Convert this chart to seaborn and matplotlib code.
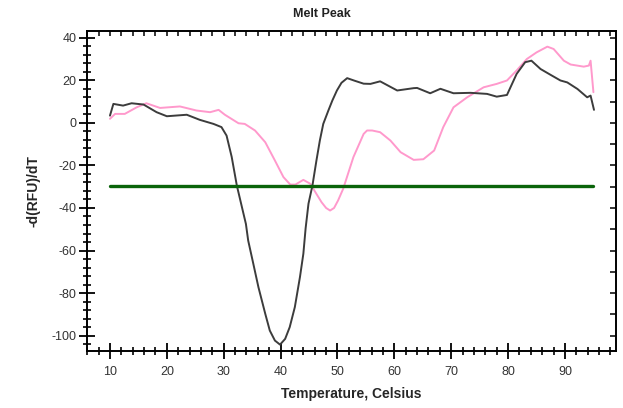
import matplotlib
matplotlib.use("Agg")
import matplotlib.pyplot as plt
from matplotlib.ticker import MultipleLocator
import seaborn as sns
import pandas as pd

# Melt curve derivative traces (temperature in Celsius, -d(RFU)/dT)
black_temp = [10.0, 10.6, 12.3, 13.8, 15.9, 18.2, 20.0, 23.5, 25.8, 28.2, 29.6, 30.5,
              31.4, 32.3, 33.2, 33.9, 34.3, 35.2, 36.1, 37.3, 38.1, 39.0, 39.9, 40.8,
              41.6, 42.5, 43.4, 44.0, 44.4, 44.9, 45.6, 46.3, 46.9, 47.5, 48.4, 49.1,
              49.9, 50.7, 51.7, 53.0, 54.6, 55.8, 57.5, 60.5, 63.4, 64.0, 66.3, 68.1,
              70.4, 73.4, 76.3, 78.0, 79.8, 81.5, 83.0, 84.1, 85.7, 87.5, 89.2, 90.4,
              92.2, 93.9, 94.5, 95.1]
black_vals = [3.4, 8.9, 8.1, 9.2, 8.6, 5.0, 3.1, 3.8, 1.4, -0.5, -2.0, -6.0,
              -16.0, -29.4, -39.6, -47.5, -55.3, -66.2, -77.2, -89.7, -97.6, -102.3, -104.2, -101.5,
              -96.0, -86.6, -72.5, -61.5, -49.5, -38.0, -29.4, -17.7, -8.3, -0.5, 5.8, 10.5,
              15.2, 18.8, 21.0, 19.8, 18.4, 18.3, 19.5, 15.2, 16.3, 16.4, 13.9, 16.0,
              13.9, 14.1, 13.6, 12.3, 13.1, 23.0, 28.5, 29.2, 25.3, 22.5, 19.9, 19.0,
              15.9, 12.0, 12.8, 6.1]

pink_temp = [10.0, 10.9, 12.6, 14.7, 16.4, 18.8, 22.3, 25.2, 27.6, 29.1, 30.2, 32.6,
             33.7, 35.5, 37.3, 39.0, 40.5, 41.7, 42.6, 44.0, 45.2, 47.2, 48.0, 48.7,
             49.4, 50.1, 51.0, 52.8, 54.6, 55.2, 56.1, 57.5, 59.3, 61.1, 63.4, 65.1,
             67.0, 68.6, 70.4, 72.8, 75.7, 78.0, 79.8, 81.5, 83.3, 85.0, 86.9, 88.0,
             89.8, 91.0, 93.3, 94.2, 94.5, 95.0]
pink_vals = [1.9, 4.2, 4.2, 7.3, 9.2, 7.0, 7.7, 5.8, 5.0, 6.1, 3.8, -0.2,
             -0.5, -3.6, -9.1, -17.7, -25.5, -29.0, -29.0, -26.8, -28.6, -37.3, -40.0, -41.2,
             -40.0, -36.5, -31.0, -16.1, -5.2, -3.6, -3.6, -4.4, -8.3, -13.8, -17.4, -17.1,
             -13.0, -2.0, 7.3, 12.0, 16.7, 18.3, 19.9, 24.6, 30.0, 33.1, 35.8, 34.7,
             29.2, 27.4, 26.4, 26.9, 29.2, 14.4]

threshold_temp = [10.0, 95.0]
threshold_vals = [-29.5, -29.5]

x_ticks = [10, 20, 30, 40, 50, 60, 70, 80, 90]
y_ticks = [40, 20, 0, -20, -40, -60, -80, -100]

sns.set_style("white")
plt.rcParams["font.family"] = ["Liberation Sans", "DejaVu Sans"]
plt.rcParams["axes.unicode_minus"] = False

fig = plt.figure(figsize=(6.23, 4.08), dpi=100)
ax = fig.add_axes([87 / 623, 1 - 351 / 408, (616 - 87) / 623, (351 - 31) / 408])

black_df = pd.DataFrame({"temp": black_temp, "val": black_vals})
pink_df = pd.DataFrame({"temp": pink_temp, "val": pink_vals})
thr_df = pd.DataFrame({"temp": threshold_temp, "val": threshold_vals})

sns.lineplot(data=pink_df, x="temp", y="val", ax=ax, color="#ff99cc",
             linewidth=1.4, sort=False, estimator=None)
sns.lineplot(data=black_df, x="temp", y="val", ax=ax, color="#3c3c3c",
             linewidth=1.4, sort=False, estimator=None)
sns.lineplot(data=thr_df, x="temp", y="val", ax=ax, color="#0a640a",
             linewidth=2.4, sort=False, estimator=None)

ax.set_xlim(5.96, 98.97)
ax.set_ylim(-107.2, 43.15)

ax.set_xticks(x_ticks)
ax.set_yticks(y_ticks)
ax.xaxis.set_minor_locator(MultipleLocator(2))
ax.yaxis.set_minor_locator(MultipleLocator(4))
ax.tick_params(axis="both", which="both", bottom=True, left=True, top=False, right=False)
ax.tick_params(axis="both", which="major", direction="inout", length=11, width=1.3,
               color="black", labelsize=9, labelcolor="#333333")
ax.tick_params(axis="both", which="minor", direction="inout", length=6, width=1.2,
               color="black")
ax.tick_params(axis="x", which="major", pad=5)
ax.tick_params(axis="y", which="major", pad=2)

for side in ["left", "bottom", "top", "right"]:
    ax.spines[side].set_visible(True)
    ax.spines[side].set_color("black")
    ax.spines[side].set_linewidth(1.4)

# inward ticks on top and right frame edges
top = ax.secondary_xaxis("top")
top.set_xticks([])
top.xaxis.set_minor_locator(MultipleLocator(2))
top.tick_params(which="minor", top=True, direction="in", length=3.5, width=1.1, color="black")
top.spines["top"].set_visible(False)
right = ax.secondary_yaxis("right")
right.set_yticks([])
right.yaxis.set_minor_locator(MultipleLocator(10))
right.tick_params(which="minor", right=True, direction="in", length=4.5, width=1.1, color="black")
right.spines["right"].set_visible(False)

ax.set_xlabel("Temperature, Celsius", fontsize=10, fontweight="bold", labelpad=7)
ax.set_ylabel("-d(RFU)/dT", fontsize=10, fontweight="bold", labelpad=8)
fig.text(322 / 623, 1 - 14 / 408, "Melt Peak", ha="center", va="center",
         fontsize=9, fontweight="bold", color="#222222")

fig.savefig("out.png", dpi=100)
